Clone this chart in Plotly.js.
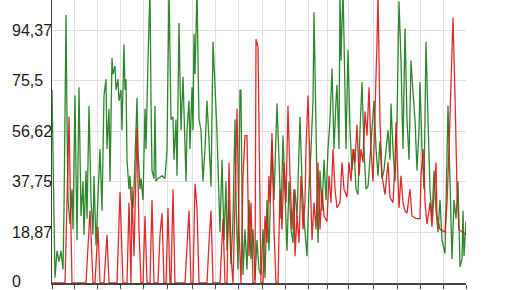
<!DOCTYPE html>
<html><head><meta charset="utf-8">
<script src="https://cdn.plot.ly/plotly-3.0.1.min.js"></script>
<style>html,body{margin:0;padding:0;background:#fff;}#chart{width:516px;height:290px;}</style>
</head><body><div id="chart"></div>
<script>
// tick positions (sample index) and y tick labels
const xTicks = [52,74,97,120,143,167,192,215,238,262,285,308,327,348,373,397,420,443,466];
const yTickVals = [0,18.87,37.75,56.62,75.5,94.37];
const yTickText = ["0","18,87","37,75","56,62","75,5","94,37"];

// green series: [index, value]
const greenPoints = [[52,72],[53,53],[55,2],[57,12],[59,8],[61,12],[63,5],[64,27],[66,100],[67,61],[68,31],[70,22],[72,35],[73,20],[75,70],[76,42],[77,16],[79,73],[80,50],[81,25],[83,38],[84,18],[86,42],[87,24],[89,66],[90,53],[91,31],[93,18],[94,40],[96,14],[98,35],[100,50],[102,27],[104,70],[106,76],[107,50],[109,65],[110,38],[112,84],[113,78],[115,81],[116,72],[118,76],[119,68],[121,72],[122,57],[124,89],[125,72],[126,76],[127,46],[129,35],[130,40],[131,31],[133,28],[134,35],[135,46],[137,69],[138,50],[140,35],[141,39],[143,31],[145,65],[146,50],[148,83],[150,110],[151,68],[152,42],[154,39],[155,66],[156,38],[158,39],[162,40],[165,39],[167,50],[169,110],[171,61],[173,62],[174,46],[176,61],[177,40],[179,97],[180,76],[181,57],[183,77],[184,65],[186,38],[187,57],[189,68],[190,50],[192,73],[193,57],[194,93],[195,78],[197,110],[198,83],[199,61],[201,57],[203,38],[205,50],[207,68],[209,53],[211,36],[213,90],[214,83],[216,65],[217,56],[219,31],[220,19],[222,46],[224,16],[226,38],[227,12],[229,31],[231,7],[233,24],[235,61],[236,31],[238,5],[240,72],[241,72],[242,31],[243,3],[245,20],[247,5],[249,31],[251,9],[253,20],[255,1],[257,16],[259,5],[261,3],[263,20],[265,2],[267,31],[269,12],[272,53],[274,31],[277,67],[279,46],[281,24],[283,55],[285,31],[287,12],[289,38],[291,20],[293,15],[295,35],[297,24],[300,62],[302,38],[304,24],[307,10],[309,35],[311,50],[313,68],[314,101],[316,61],[318,15],[320,42],[322,27],[324,46],[326,31],[328,50],[330,61],[332,80],[334,50],[336,68],[337,74],[339,50],[340,110],[341,83],[343,110],[345,72],[346,50],[348,87],[350,57],[352,42],[354,50],[356,35],[358,33],[360,57],[361,71],[362,75],[364,50],[366,35],[368,36],[370,46],[372,57],[374,68],[376,50],[378,40],[380,53],[382,39],[384,42],[386,50],[388,57],[390,46],[391,67],[393,50],[395,38],[397,61],[399,105],[401,83],[403,50],[405,95],[407,61],[409,46],[411,83],[413,71],[415,61],[417,42],[419,57],[420,75],[422,50],[424,35],[426,90],[428,61],[430,35],[432,24],[434,42],[436,27],[438,19],[440,31],[442,16],[445,11],[447,42],[448,66],[450,38],[452,9],[454,31],[456,24],[458,38],[460,6],[462,9],[463,27],[464,10],[466,23]];

// red series: [index, value]
const redPoints = [[52,0],[65,0],[67,30],[69,62],[70,40],[72,0],[86,0],[90,27],[93,0],[95,0],[98,21],[100,0],[104,0],[107,18],[109,0],[117,0],[120,34],[123,0],[127,0],[129,30],[131,0],[132,36],[134,10],[136,40],[137,58],[139,20],[141,0],[143,0],[145,25],[147,0],[150,0],[152,31],[154,0],[158,0],[160,18],[162,26],[164,0],[166,0],[168,28],[170,0],[171,0],[173,35],[175,0],[185,0],[187,15],[189,27],[191,0],[193,0],[195,37],[197,28],[199,0],[207,0],[209,15],[211,27],[213,0],[220,0],[223,24],[225,0],[227,0],[229,45],[231,10],[233,0],[235,30],[237,65],[239,20],[241,0],[243,40],[245,55],[247,55],[249,10],[251,30],[253,0],[255,0],[256,91],[258,88],[259,60],[261,0],[263,0],[265,25],[267,15],[269,40],[270,30],[272,56],[274,20],[276,0],[278,0],[280,35],[282,20],[284,45],[286,30],[288,66],[290,40],[292,20],[294,35],[295,10],[297,25],[299,15],[301,40],[303,20],[305,30],[306,50],[308,70],[310,40],[312,16],[314,30],[316,20],[318,45],[320,20],[322,35],[324,25],[327,23],[329,40],[331,30],[333,50],[335,35],[337,28],[340,30],[342,45],[344,35],[347,32],[349,45],[351,38],[353,50],[355,45],[357,59],[359,40],[361,50],[363,45],[365,64],[367,55],[369,73],[371,50],[373,38],[375,60],[377,90],[378,108],[379,85],[380,60],[382,40],[384,35],[385,33],[388,45],[390,32],[393,30],[395,45],[396,60],[397,50],[399,28],[401,40],[403,30],[405,27],[407,26],[410,35],[412,25],[416,24],[420,24],[421,40],[423,50],[424,45],[425,30],[427,22],[430,30],[432,21],[434,35],[436,45],[437,25],[440,20],[445,19],[447,30],[449,50],[451,75],[453,99],[455,70],[457,35],[459,20],[465,18],[466,18]];

const traces = [
  {x: greenPoints.map(p=>p[0]), y: greenPoints.map(p=>p[1]), type:'scatter', mode:'lines',
   line:{color:'rgb(22,122,22)', width:1.3}, opacity:0.9, hoverinfo:'skip'},
  {x: redPoints.map(p=>p[0]), y: redPoints.map(p=>p[1]), type:'scatter', mode:'lines',
   line:{color:'rgb(222,20,20)', width:1.3}, opacity:0.9, hoverinfo:'skip'}
];

const annotations = yTickVals.map((v,i)=>({
  xref:'paper', yref:'y', x:-0.099, y:v, xanchor:'left', yanchor:'middle',
  yshift: v === 0 ? 2 : 0,
  text:yTickText[i], showarrow:false, borderpad:0,
  font:{family:'Liberation Sans, Arial, sans-serif', size:16, color:'#1a1a1a'}
}));

const layout = {
  width:516, height:290,
  margin:{l:52, r:50, t:0, b:7, pad:0},
  paper_bgcolor:'#fff', plot_bgcolor:'#fff',
  showlegend:false,
  xaxis:{range:[52,466], tickvals:xTicks, showticklabels:false, ticks:'outside', ticklen:4,
    tickcolor:'#444', showline:true, linecolor:'#444', linewidth:1.5, gridcolor:'#e0e0e0',
    gridwidth:1, zeroline:false, fixedrange:true},
  yaxis:{range:[0,105.6], tickvals:yTickVals, showticklabels:false, ticks:'',
    showline:true, linecolor:'#444', linewidth:1.5, gridcolor:'#e0e0e0', gridwidth:1,
    zeroline:false, fixedrange:true},
  annotations: annotations
};

Plotly.newPlot('chart', traces, layout, {staticPlot:true, displayModeBar:false});
</script></body></html>
